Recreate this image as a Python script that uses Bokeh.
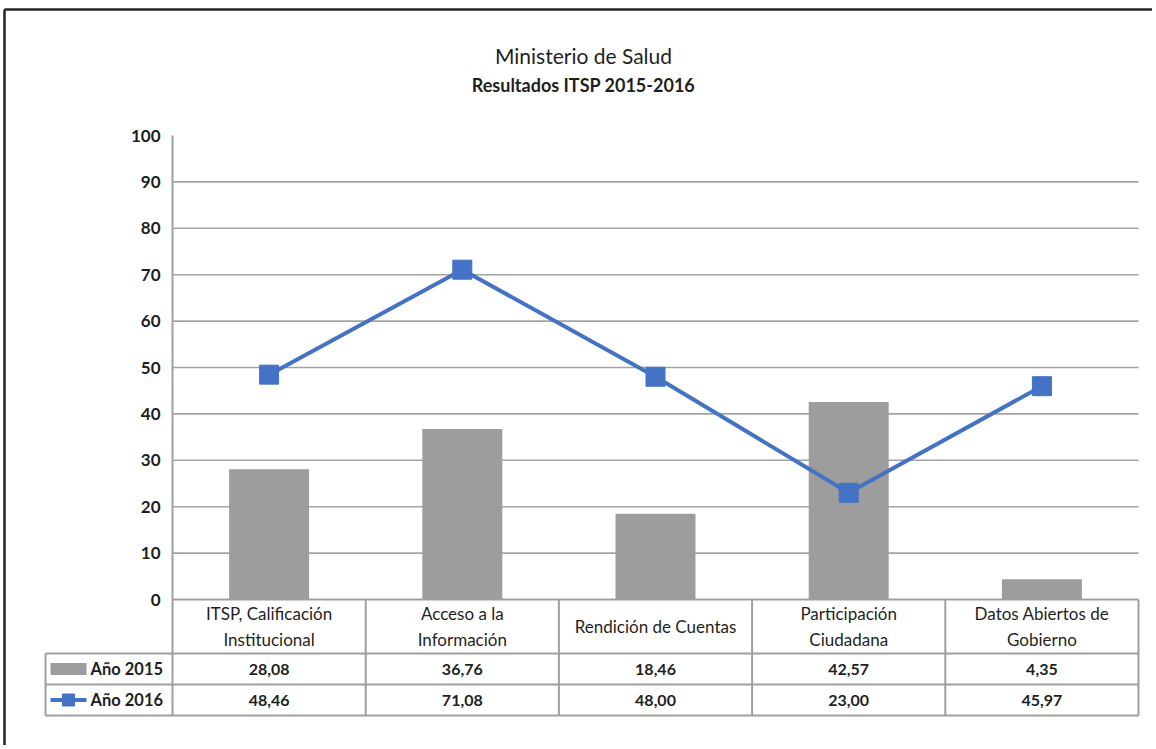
from bokeh.plotting import figure
from bokeh.models import Range1d, LinearAxis, FixedTicker
from bokeh.core.properties import value
from bokeh.embed import file_html
from bokeh.resources import INLINE

# ---------------- data ----------------
TITLE = "Ministerio de Salud"
SUBTITLE = "Resultados ITSP 2015-2016"
categories = [
    "ITSP, Calificación\nInstitucional",
    "Acceso a la\nInformación",
    "Rendición de Cuentas",
    "Participación\nCiudadana",
    "Datos Abiertos de\nGobierno",
]
series_names = ["Año 2015", "Año 2016"]
v2015 = [28.08, 36.76, 18.46, 42.57, 4.35]
v2016 = [48.46, 71.08, 48.00, 23.00, 45.97]
yticks = [0, 10, 20, 30, 40, 50, 60, 70, 80, 90, 100]
gridticks = [10, 20, 30, 40, 50, 60, 70, 80, 90]

# ---------------- layout helpers (page pixels -> data) ----------------
W, H = 1152, 745
OX, OY = 0, 0            # page offset of the canvas
X0PX, CW = 172.0, 193.2  # left edge of category area, column width
Y0PX, UPX = 599.0, 4.64  # y of value 0, pixels per unit


def dx(px):
    return (px - X0PX) / CW - 0.5


def dy(py):
    return (Y0PX - py) / UPX


FONT = "Lato"
TXT = "#1f1f1f"
GRID = "#a3a3a3"
TABLE = "#9f9f9f"
BLUE = "#4472C4"
BAR = "#9d9d9d"

idx = list(range(len(categories)))

p = figure(
    width=W, height=H,
    x_range=Range1d(dx(OX), dx(OX + W)),
    y_range=Range1d(dy(OY + H), dy(OY)),
    output_backend="svg", toolbar_location=None, tools="",
    x_axis_location=None, y_axis_location=None, min_border=0,
)
p.outline_line_color = None
p.background_fill_color = "white"
p.border_fill_color = "white"
p.grid.visible = False

# outer black frame (top and left)
p.segment(x0=[dx(4), dx(4)], y0=[dy(9), dy(9)],
          x1=[dx(OX + W), dx(4)], y1=[dy(9), dy(OY + H)],
          line_color="#222222", line_width=2.5)

# horizontal gridlines
p.segment(x0=[-0.5] * len(gridticks), x1=[len(categories) - 0.5] * len(gridticks),
          y0=gridticks, y1=gridticks, line_color=GRID, line_width=1.6)

# bars (2015)
p.vbar(x=idx, top=v2015, bottom=0, width=0.414, fill_color=BAR, line_color=None)

# y axis
yaxis = LinearAxis(
    fixed_location=-0.5, ticker=FixedTicker(ticks=yticks),
    axis_line_color=None, major_tick_line_color=None, minor_tick_line_color=None,
    major_tick_in=0, major_tick_out=0, major_label_standoff=12,
    major_label_text_font=FONT, major_label_text_font_style="bold",
    major_label_text_font_size="17px", major_label_text_color=TXT,
)
p.add_layout(yaxis, "left")

# table geometry
n = len(categories)
r_head_top, r_head_bot, r1_bot, r2_bot = dy(599), dy(653), dy(684), dy(715)
left_col = dx(45)
right_edge = n - 0.5

# axis line + table lines
hx0 = [-0.5, left_col, left_col, left_col]
hx1 = [right_edge] * 4
hy = [r_head_top, r_head_bot, r1_bot, r2_bot]
p.segment(x0=hx0, x1=hx1, y0=hy, y1=hy, line_color=TABLE, line_width=2)
vx = [i - 0.5 for i in range(1, n + 1)]
p.segment(x0=vx, x1=vx, y0=[r_head_top] * len(vx), y1=[r2_bot] * len(vx),
          line_color=TABLE, line_width=2)
p.segment(x0=[-0.5, left_col], x1=[-0.5, left_col], y0=[100, r_head_bot],
          y1=[r2_bot, r2_bot], line_color=TABLE, line_width=2)

# 2016 line
p.line(x=idx, y=v2016, line_color=BLUE, line_width=4)
p.scatter(x=idx, y=v2016, marker="square", size=19, fill_color=BLUE, line_color=BLUE)

# titles
p.text(x=[dx(583)], y=[dy(55)], text=[TITLE], text_font=value(FONT),
       text_font_size="21px", text_color=TXT, text_align="center", text_baseline="middle")
p.text(x=[dx(583)], y=[dy(84)], text=[SUBTITLE], text_font=value(FONT),
       text_font_size="18px", text_font_style="bold", text_color=TXT,
       text_align="center", text_baseline="middle")

# table header (categories)
p.text(x=idx, y=[(r_head_top + r_head_bot) / 2] * n, text=categories,
       text_font=value(FONT), text_font_size="17px", text_color=TXT,
       text_align="center", text_baseline="middle", text_line_height=1.2)

# table values
def fmt(v):
    return f"{v:.2f}".replace(".", ",")

row1_y = (r_head_bot + r1_bot) / 2
row2_y = (r1_bot + r2_bot) / 2
p.text(x=idx, y=[row1_y] * n, text=[fmt(v) for v in v2015],
       text_font=value(FONT), text_font_size="16px", text_font_style="bold",
       text_color=TXT, text_align="center", text_baseline="middle")
p.text(x=idx, y=[row2_y] * n, text=[fmt(v) for v in v2016],
       text_font=value(FONT), text_font_size="16px", text_font_style="bold",
       text_color=TXT, text_align="center", text_baseline="middle")

# legend keys in the table
p.quad(left=[dx(50)], right=[dx(86)], top=[row1_y + 1.3], bottom=[row1_y - 1.3],
       fill_color=BAR, line_color=None)
p.segment(x0=[dx(50)], x1=[dx(86)], y0=[row2_y], y1=[row2_y], line_color=BLUE, line_width=4)
p.scatter(x=[dx(68)], y=[row2_y], marker="square", size=12, fill_color=BLUE, line_color=BLUE)
p.text(x=[dx(90)] * 2, y=[row1_y, row2_y], text=series_names,
       text_font=value(FONT), text_font_size="16.5px", text_font_style="bold",
       text_color=TXT, text_align="left", text_baseline="middle")

open("out.html", "w").write(file_html(p, INLINE))
